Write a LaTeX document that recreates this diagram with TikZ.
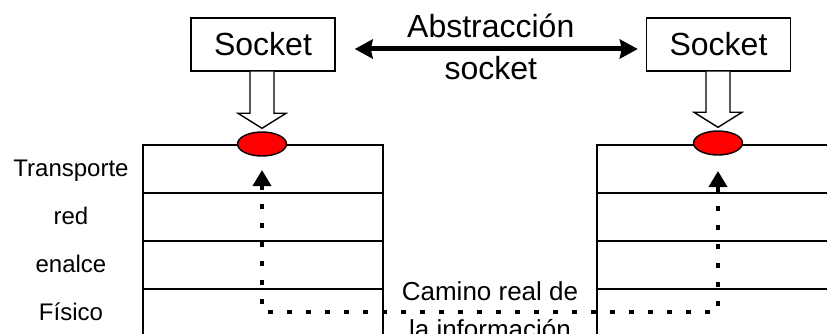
\documentclass[tikz,border=0pt]{standalone}
\usepackage{fontspec}
\setmainfont{Liberation Sans}
\usetikzlibrary{arrows.meta,shapes.geometric,calc}
\tikzset{
  sockbox/.style={draw,line width=1.4pt,minimum width=144pt,minimum height=53pt,inner sep=0pt,font=\fontsize{32}{38}\selectfont},
  hole/.style={ellipse,draw,line width=1.4pt,fill=red,minimum width=49pt,minimum height=24pt,inner sep=0pt},
  layer/.style={anchor=base,font=\fontsize{24}{29}\selectfont},
  capa/.style={line width=1.6pt},
  hollow/.style={draw,fill=white,line width=1.4pt},
  dbl/.style={line width=5pt,>={Stealth[length=18pt,width=19pt,inset=2pt]},<->,shorten <=19pt,shorten >=8pt},
  big/.style={font=\fontsize{32}{38}\selectfont,inner sep=3pt},
  realpath/.style={line width=3.6pt,dash pattern=on 5pt off 14pt,>={Triangle[width=18pt,length=16pt]},<->},
  camino/.style={font=\fontsize{26}{31}\selectfont,inner sep=3pt},
}
\begin{document}
\begin{tikzpicture}[x=1pt,y=-1pt]
	\useasboundingbox (0,0) rectangle (827,334);
	% pilas de capas
	\draw[capa] (143,340) -- (143,145) -- (383,145) -- (383,340);
	\draw[capa] (597,340) -- (597,145) -- (830,145);
	\foreach \y in {193,241,289} {
		\draw[capa] (143,\y) -- (383,\y);
		\draw[capa] (597,\y) -- (830,\y);
	}
	\foreach \txt [count=\i] in {Transporte,red,enalce,Físico}
		\node[layer] (lay\i) at (71,128+48*\i) {\txt};
	% sockets
	\node[sockbox] (sockL) at (263,44.5) {Socket};
	\node[sockbox] (sockR) at (718.5,44.5) {Socket};
	\node[hole] (ovL) at (262,144) {};
	\node[hole] (ovR) at (718,143) {};
	\draw[dbl] ([yshift=-4.5pt]sockL.east) --node[above=6pt,big]{Abstracción} node[below=2pt,big]{socket} ([yshift=-4.5pt]sockR.west);
	\foreach \s/\o in {sockL/ovL,sockR/ovR}
		\draw[hollow] let \p1=(\s.south), \p2=(\o.north) in
			(\x2-12pt,\y1) -- (\x2-12pt,\y2+18pt) -- (\x2-24pt,\y2+18pt) -- (\x2,\y2+3pt)
			-- (\x2+24pt,\y2+18pt) -- (\x2+12pt,\y2+18pt) -- (\x2+12pt,\y1);
	% camino real
	\coordinate (tipL) at (262,170);
	\coordinate (tipR) at (718,171);
	\coordinate (low) at (0,312);
	\draw[realpath] (tipL) -- (tipL |- low) --node[above=6pt,camino]{Camino real de} node[below=3pt,camino]{la información} (tipR |- low) -- (tipR);
\end{tikzpicture}
\end{document}
